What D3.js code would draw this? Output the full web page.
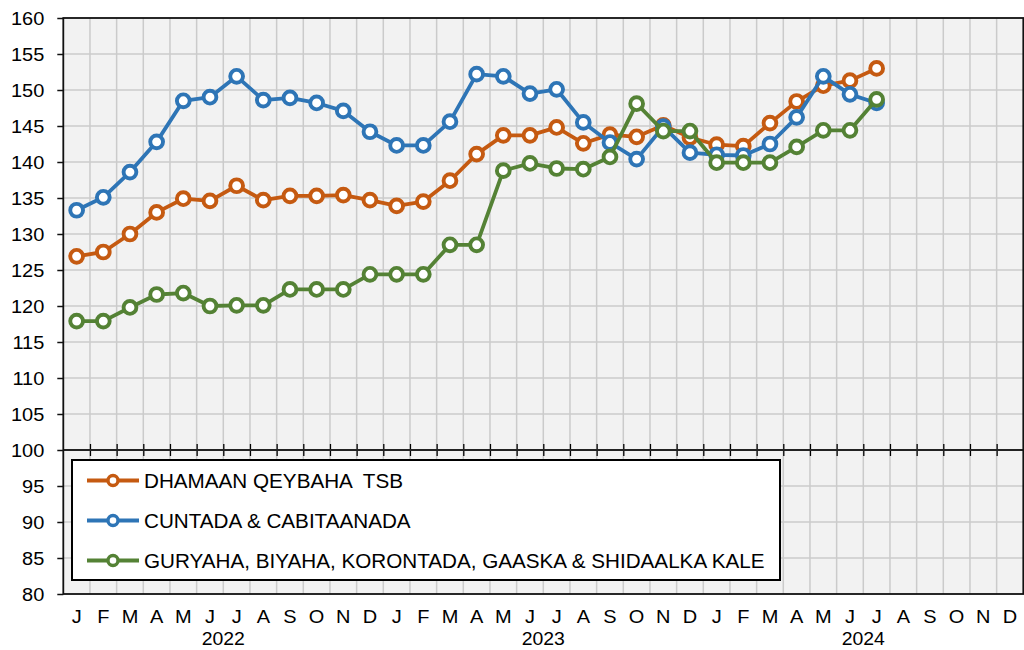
<!DOCTYPE html>
<html>
<head>
<meta charset="utf-8">
<script src="https://cdn.jsdelivr.net/npm/d3@7"></script>
<style>
  body { margin: 0; background: #fff; }
  text { font-family: "Liberation Sans", Arial, sans-serif; fill: #000; }
</style>
</head>
<body>
<div id="chart"></div>
<script>
// Month labels for the x axis (three years).
const monthLetters = ['J', 'F', 'M', 'A', 'M', 'J', 'J', 'A', 'S', 'O', 'N', 'D'];
const months = [].concat(monthLetters, monthLetters, monthLetters);
const years = ['2022', '2023', '2024'];

// Series, Jan 2022 .. Jul 2024.
const seriesNames = [
  'DHAMAAN QEYBAHA  TSB',
  'CUNTADA & CABITAANADA',
  'GURYAHA, BIYAHA, KORONTADA, GAASKA & SHIDAALKA KALE'
];
const seriesColors = ['#C55A11', '#2E75B6', '#548235'];

const totalValues = [
  126.9, 127.5, 130.0, 133.0, 134.9, 134.6, 136.7, 134.7, 135.3, 135.3, 135.4, 134.7,
  133.9, 134.5, 137.4, 141.1, 143.7, 143.7, 144.8, 142.6, 143.8, 143.5, 145.1, 143.4,
  142.4, 142.2, 145.4, 148.4, 150.6, 151.3, 153.0
];
const foodValues = [
  133.3, 135.1, 138.6, 142.8, 148.5, 149.0, 151.9, 148.6, 148.9, 148.2, 147.1, 144.2,
  142.3, 142.3, 145.6, 152.2, 151.9, 149.5, 150.1, 145.5, 142.7, 140.4, 144.9, 141.3,
  141.0, 140.9, 142.5, 146.2, 151.9, 149.4, 148.2
];
const housingValues = [
  117.9, 117.9, 119.8, 121.6, 121.8, 120.0, 120.1, 120.1, 122.3, 122.3, 122.3, 124.4,
  124.4, 124.4, 128.5, 128.5, 138.8, 139.8, 139.1, 139.0, 140.7, 148.1, 144.3, 144.3,
  139.9, 139.9, 139.9, 142.1, 144.4, 144.4, 148.7
];
const seriesValues = [totalValues, foodValues, housingValues];

(function() {
  // Chart size and plot box.
  const width = 1024;
  const height = 650;
  const plotLeft = 63.3;
  const plotRight = 1023.3;
  const plotTop = 18;
  const plotBottom = 594;

  // The picture is a little wider than tall, so text is stretched sideways.
  const stretch = (sel, k) => {
    sel.each(function() {
      const t = d3.select(this);
      const tx = +t.attr('x') || 0;
      const ty = +t.attr('y') || 0;
      t.attr('x', 0).attr('y', 0)
        .attr('transform', `translate(${tx},${ty}) scale(${k},1)`);
    });
  };

  const svg = d3.select('#chart')
    .append('svg')
    .attr('width', width)
    .attr('height', height);

  // Scales.
  const x = d3.scaleBand()
    .domain(d3.range(months.length))
    .range([plotLeft, plotRight]);
  const xEdge = d3.scaleLinear()
    .domain([0, months.length])
    .range([plotLeft, plotRight]);
  const y = d3.scaleLinear()
    .domain([80, 160])
    .range([plotBottom, plotTop]);

  // Plot background.
  svg.append('rect')
    .attr('x', plotLeft)
    .attr('y', plotTop)
    .attr('width', plotRight - plotLeft)
    .attr('height', plotBottom - plotTop)
    .style('fill', '#f2f2f2');

  // Gridlines.
  svg.append('g')
    .selectAll('line')
    .data(d3.range(85, 160, 5))
    .enter()
    .append('line')
    .attr('x1', plotLeft)
    .attr('x2', plotRight)
    .attr('y1', d => y(d))
    .attr('y2', d => y(d))
    .style('stroke', '#cbcbcb')
    .style('stroke-width', 1.5);

  svg.append('g')
    .selectAll('line')
    .data(d3.range(1, months.length))
    .enter()
    .append('line')
    .attr('x1', d => xEdge(d))
    .attr('x2', d => xEdge(d))
    .attr('y1', plotTop)
    .attr('y2', plotBottom)
    .style('stroke', '#cbcbcb')
    .style('stroke-width', 1.5);

  // Horizontal axis crossing at 100, with crossing tick marks.
  const crossAxis = svg.append('g')
    .attr('transform', `translate(0, ${y(100) - 6})`)
    .call(d3.axisBottom(xEdge)
      .tickValues(d3.range(1, months.length + 1))
      .tickSize(12)
      .tickFormat(''));
  crossAxis.select('.domain').remove();
  crossAxis.selectAll('line').style('stroke', '#000').style('stroke-width', 1.3);

  svg.append('line')
    .attr('x1', plotLeft)
    .attr('x2', plotRight)
    .attr('y1', y(100))
    .attr('y2', y(100))
    .style('stroke', '#222')
    .style('stroke-width', 1.8);

  // Plot border.
  svg.append('rect')
    .attr('x', plotLeft)
    .attr('y', plotTop)
    .attr('width', plotRight - plotLeft)
    .attr('height', plotBottom - plotTop)
    .style('fill', 'none')
    .style('stroke', '#111')
    .style('stroke-width', 1.8);

  // Y axis.
  const yAxis = svg.append('g')
    .attr('transform', `translate(${plotLeft}, 0)`)
    .call(d3.axisLeft(y)
      .tickValues(d3.range(80, 161, 5))
      .tickSize(6)
      .tickPadding(13));
  yAxis.select('.domain').remove();
  yAxis.selectAll('line').style('stroke', '#111').style('stroke-width', 1.5);
  yAxis.selectAll('text')
    .style('font-size', '18.5px')
    .attr('dy', '0.36em');
  stretch(yAxis.selectAll('text'), 1.08);

  // X axis: month letters.
  const xAxis = svg.append('g')
    .attr('transform', `translate(0, ${plotBottom})`)
    .call(d3.axisBottom(x)
      .tickSize(0)
      .tickPadding(16)
      .tickFormat(i => months[i]));
  xAxis.select('.domain').remove();
  xAxis.selectAll('text').style('font-size', '18.5px');
  stretch(xAxis.selectAll('text'), 1.08);

  // Year labels, centred under their twelve months.
  const yearText = svg.append('g')
    .selectAll('text')
    .data(years)
    .enter()
    .append('text')
    .attr('x', (d, i) => (x(i * 12) + x(i * 12 + 11) + x.bandwidth()) / 2)
    .attr('y', 645)
    .style('text-anchor', 'middle')
    .style('font-size', '18px')
    .text(d => d);
  stretch(yearText, 1.08);

  // Series lines and markers.
  const line = d3.line()
    .x((d, i) => x(i) + x.bandwidth() / 2)
    .y(d => y(d));

  const series = svg.append('g')
    .selectAll('g')
    .data(seriesValues)
    .enter()
    .append('g');

  series.append('path')
    .attr('d', line)
    .style('fill', 'none')
    .style('stroke', (d, i) => seriesColors[i])
    .style('stroke-width', 3.8)
    .style('stroke-linejoin', 'round');

  series.each(function(values, s) {
    d3.select(this)
      .selectAll('circle')
      .data(values)
      .enter()
      .append('circle')
      .attr('cx', (d, i) => x(i) + x.bandwidth() / 2)
      .attr('cy', d => y(d))
      .attr('r', 6.4)
      .style('fill', '#fff')
      .style('stroke', seriesColors[s])
      .style('stroke-width', 3.9);
  });

  // Legend box.
  const legend = svg.append('g');
  legend.append('rect')
    .attr('x', 72)
    .attr('y', 460)
    .attr('width', 708)
    .attr('height', 120)
    .style('fill', '#fff')
    .style('stroke', '#000')
    .style('stroke-width', 2);

  const item = legend.selectAll('g')
    .data(seriesNames)
    .enter()
    .append('g')
    .attr('transform', (d, i) => `translate(0, ${480.5 + i * 40})`);

  item.append('line')
    .attr('x1', 87)
    .attr('x2', 139)
    .style('stroke', (d, i) => seriesColors[i])
    .style('stroke-width', 3.8);

  item.append('circle')
    .attr('cx', 113)
    .attr('r', 5)
    .style('fill', '#fff')
    .style('stroke', (d, i) => seriesColors[i])
    .style('stroke-width', 3.4);

  const legendText = item.append('text')
    .attr('x', 144)
    .attr('dy', '0.36em')
    .style('font-size', '19.5px')
    .style('white-space', 'pre')
    .text(d => d);
  stretch(legendText, 1.06);
})();
</script>
</body>
</html>
